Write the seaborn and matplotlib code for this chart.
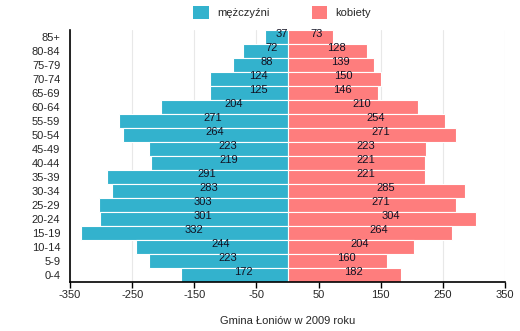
import matplotlib
matplotlib.use("Agg")
import matplotlib.pyplot as plt
import seaborn as sns
import pandas as pd
from matplotlib.patches import Patch

age_groups = ["85+", "80-84", "75-79", "70-74", "65-69", "60-64", "55-59", "50-54",
              "45-49", "40-44", "35-39", "30-34", "25-29", "20-24", "15-19", "10-14",
              "5-9", "0-4"]
men = [37, 72, 88, 124, 125, 204, 271, 264, 223, 219, 291, 283, 303, 301, 332, 244, 223, 172]
women = [73, 128, 139, 150, 146, 210, 254, 271, 223, 221, 221, 285, 271, 304, 264, 204, 160, 182]
x_ticks = [-350, -250, -150, -50, 50, 150, 250, 350]
series_names = ["mężczyźni", "kobiety"]
title = "Gmina Łoniów w 2009 roku"

c_men = "#33b2cd"
c_women = "#fe7d7d"

sns.set_theme(style="white")
plt.rcParams["font.family"] = ["Liberation Sans", "DejaVu Sans"]

df_m = pd.DataFrame({"age": age_groups, "value": [-v for v in men]})
df_w = pd.DataFrame({"age": age_groups, "value": women})

fig = plt.figure(figsize=(5.2, 3.31), dpi=100)
ax = fig.add_axes([0.1346, 0.148, 0.9712 - 0.1346, 0.909 - 0.148])

sns.barplot(data=df_m, x="value", y="age", orient="h", color=c_men, width=1.0,
            edgecolor="white", linewidth=0.8, saturation=1, ax=ax, zorder=2)
sns.barplot(data=df_w, x="value", y="age", orient="h", color=c_women, width=1.0,
            edgecolor="white", linewidth=0.8, saturation=1, ax=ax, zorder=2)

for i, (m, w) in enumerate(zip(men, women)):
    ax.text(-m / 2, i - 0.22, str(m), ha="left", va="center", fontsize=8,
            color="#111122", zorder=3)
    ax.text(w / 2, i - 0.22, str(w), ha="left", va="center", fontsize=8,
            color="#111122", zorder=3)

ax.set_xlim(-350, 350)
ax.set_ylim(len(age_groups) - 0.5, -0.5)
ax.set_xticks(x_ticks)
ax.set_xticklabels([str(t) for t in x_ticks])
ax.tick_params(axis="x", labelsize=8, length=4, width=1, color="black", pad=2,
               direction="out", bottom=True)
ax.tick_params(axis="y", labelsize=8, length=0, pad=7)
ax.xaxis.grid(True, color="#e8e8e8", linewidth=0.8, zorder=0)
ax.set_axisbelow(True)
for s in ["top", "right"]:
    ax.spines[s].set_visible(False)
for s in ["left", "bottom"]:
    ax.spines[s].set_color("black")
    ax.spines[s].set_linewidth(1.2)
ax.set_ylabel("")
ax.set_xlabel(title, fontsize=8, labelpad=11)

handles = [Patch(facecolor=c_men, edgecolor="none"), Patch(facecolor=c_women, edgecolor="none")]
fig.legend(handles, series_names, loc="upper center", bbox_to_anchor=(0.543, 1.012),
           ncol=2, frameon=False, fontsize=8, handlelength=1.4, handleheight=1.4,
           columnspacing=3.8, handletextpad=0.75)

fig.savefig("out.png", dpi=100)
